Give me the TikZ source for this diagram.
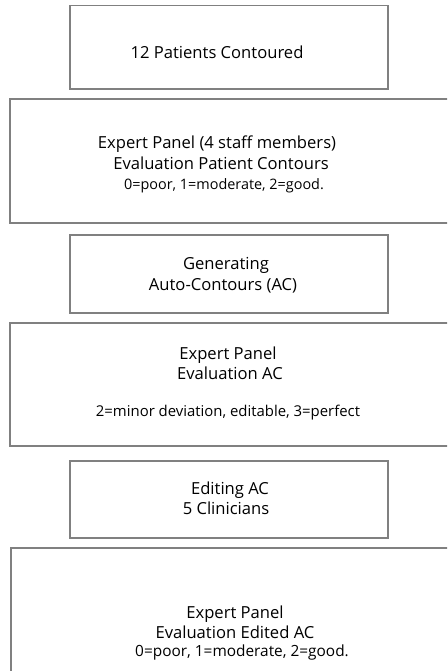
\documentclass[tikz,border=0pt]{standalone}
\usepackage{fontspec}
\setmainfont{Open Sans}
\begin{document}
\begin{tikzpicture}[x=1pt, y=-1pt,
  frame/.style={draw=framegray, line width=1.8pt, inner sep=0pt, fill=none},
  big/.style={font=\fontsize{16.6}{19}\selectfont, anchor=base, inner sep=0pt},
  small/.style={font=\fontsize{#1}{17}\selectfont, anchor=base, inner sep=0pt},
  small/.default=14.8]
\definecolor{framegray}{RGB}{128,128,128}
\useasboundingbox (0,0) rectangle (447,671);
\clip (0,0) rectangle (447,671);

% step boxes (the wide ones run past the right edge)
\node[frame, minimum width=318pt, minimum height=83.5pt] (b1) at (229,47.25) {};
\node[frame, minimum width=460pt, minimum height=124pt] (b2) at (240,161) {};
\node[frame, minimum width=318pt, minimum height=78pt] (b3) at (229,274) {};
\node[frame, minimum width=460pt, minimum height=123pt] (b4) at (240,384.5) {};
\node[frame, minimum width=318pt, minimum height=77pt] (b5) at (229,499.5) {};
\node[frame, minimum width=459pt, minimum height=152pt] (b6) at (240.5,624) {};

% labels
\node[big] (t1) at (217,58.3) {12 Patients Contoured};

\node[big] (t2a) at (217,149) {Expert Panel (4 staff members)};
\node[big] (t2b) at (221,169.5) {Evaluation Patient Contours};
\node[small=14.4] (t2c) at (224,189.5) {0=poor, 1=moderate, 2=good.};

\node[big] (t3a) at (226,269.5) {Generating};
\node[big] (t3b) at (223,290) {Auto-Contours (AC)};

\node[big] (t4a) at (228,359) {Expert Panel};
\node[big] (t4b) at (230,379.5) {Evaluation AC};
\node[small=14.9] (t4c) at (228,416) {2=minor deviation, editable, 3=perfect};

\node[big] (t5a) at (230,494.3) {Editing AC};
\node[big] (t5b) at (226,514.3) {5 Clinicians};

\node[big] (t6a) at (235,618.3) {Expert Panel};
\node[big] (t6b) at (235,638.3) {Evaluation Edited AC};
\node[small=15.4] (t6c) at (242,656.5) {0=poor, 1=moderate, 2=good.};
\end{tikzpicture}
\end{document}
